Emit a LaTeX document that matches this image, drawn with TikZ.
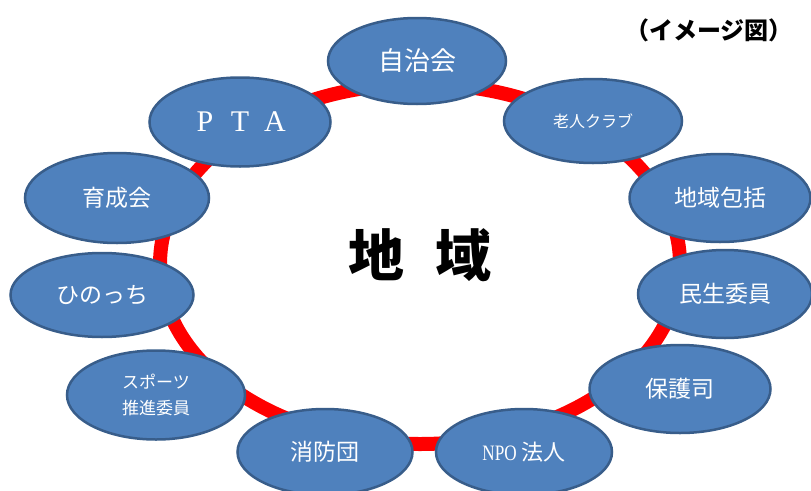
\documentclass[tikz,border=0pt]{standalone}
\usepackage{fontspec}
\newfontfamily\jp{Noto Sans CJK JP}
\newfontfamily\serifpta{Liberation Serif}
\newfontfamily\serifnpo[FakeStretch=0.78]{Liberation Serif}
\usetikzlibrary{shapes.geometric}
\definecolor{orgblue}{HTML}{4F81BD}
\definecolor{orgline}{HTML}{385D8A}

\tikzset{
	org/.style={ellipse, draw=orgline, fill=orgblue, line width=2.5pt,
		minimum width=180pt, minimum height=87pt, inner sep=0pt,
		text=white, align=center, font=\jp\fontsize{22}{26}\selectfont},
	ringline/.style={draw=red, line width=14pt}
}

\begin{document}
\begin{tikzpicture}[x=1pt, y=-1pt]
	\useasboundingbox (0,0) rectangle (811,490);

	% red ring behind the groups
	\coordinate (ring) at (420,264);
	\draw[ringline] (ring) ellipse [x radius=260, y radius=180];

	\node (title) at (709,30) {\jp\bfseries\fontsize{24}{28}\selectfont （イメージ図）};
	\node (area) at (420,255) {\jp\bfseries\fontsize{56}{60}\selectfont 地\hspace{0.55em}域};

	% groups, clockwise from the top
	\node[org, minimum width=178pt, minimum height=86pt, font=\jp\fontsize{26}{30}\selectfont] (jichikai) at (417,61) {自治会};
	\node[org, minimum width=178pt, minimum height=84pt, font=\jp\fontsize{16}{20}\selectfont] (rojin) at (593,121) {老人クラブ};
	\node[org, minimum width=181pt, minimum height=88pt, font=\jp\fontsize{23}{27}\selectfont] (hokatsu) at (720,198) {地域包括};
	\node[org, minimum width=174pt, minimum height=88pt, font=\jp\fontsize{23}{27}\selectfont] (minsei) at (725,294) {民生委員};
	\node[org, minimum width=181pt, minimum height=88pt, font=\jp\fontsize{23}{27}\selectfont] (hogoshi) at (680,389) {保護司};
	\node[org, minimum width=176pt, minimum height=86pt] (npo) at (524,452) {{\serifnpo NPO} 法人};
	\node[org, minimum width=175pt, minimum height=86pt, font=\jp\fontsize{23}{27}\selectfont] (shobo) at (325,452) {消防団};
	\node[org, minimum width=178pt, minimum height=89pt, font=\jp\fontsize{17}{26}\selectfont] (sports) at (156,395) {スポーツ\\推進委員};
	\node[org, minimum width=183pt, minimum height=84pt, font=\jp\fontsize{23}{27}\selectfont] (hinocchi) at (102,295) {ひのっち};
	\node[org, minimum width=184pt, minimum height=90pt, font=\jp\fontsize{23}{27}\selectfont] (ikusei) at (117,198) {育成会};
	\node[org, minimum width=181pt, minimum height=89pt, font=\serifpta\fontsize{30}{34}\selectfont] (pta) at (240,122)
		{\makebox[35pt]{P}\makebox[35pt]{T}\makebox[35pt]{A}};
\end{tikzpicture}
\end{document}
